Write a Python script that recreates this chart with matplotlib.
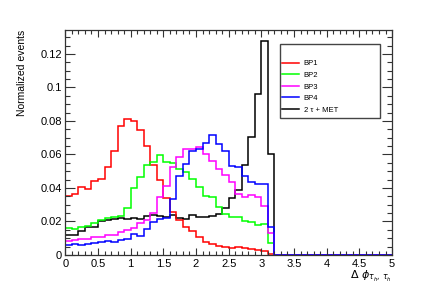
import numpy as np
import matplotlib
import matplotlib.pyplot as plt
from matplotlib.patches import Rectangle
from matplotlib.ticker import MultipleLocator, FuncFormatter

matplotlib.use("Agg")

# 50 bins of 0.1 from 0 to 5, only the first 32 are filled
bin_edges = np.round(np.arange(0, 5.01, 0.1), 2)

bp1 = [0.0350, 0.0367, 0.0404, 0.0392, 0.0444, 0.0456, 0.0523, 0.0621, 0.0770, 0.0812,
       0.0802, 0.0746, 0.0652, 0.0537, 0.0448, 0.0338, 0.0259, 0.0209, 0.0165, 0.0145,
       0.0109, 0.0080, 0.0066, 0.0054, 0.0046, 0.0042, 0.0046, 0.0040, 0.0038, 0.0032,
       0.0022, 0.0008]
bp2 = [0.0159, 0.0157, 0.0165, 0.0173, 0.0189, 0.0209, 0.0219, 0.0229, 0.0233, 0.0283,
       0.0400, 0.0468, 0.0537, 0.0557, 0.0597, 0.0557, 0.0547, 0.0515, 0.0497, 0.0455,
       0.0404, 0.0355, 0.0345, 0.0285, 0.0245, 0.0229, 0.0229, 0.0200, 0.0199, 0.0178,
       0.0188, 0.0070]
bp3 = [0.0084, 0.0088, 0.0093, 0.0098, 0.0105, 0.0110, 0.0122, 0.0118, 0.0137, 0.0148,
       0.0160, 0.0189, 0.0209, 0.0249, 0.0344, 0.0412, 0.0523, 0.0587, 0.0631, 0.0631,
       0.0643, 0.0600, 0.0560, 0.0515, 0.0480, 0.0435, 0.0362, 0.0344, 0.0356, 0.0344,
       0.0295, 0.0133]
bp4 = [0.0062, 0.0064, 0.0060, 0.0068, 0.0072, 0.0076, 0.0082, 0.0078, 0.0090, 0.0098,
       0.0128, 0.0115, 0.0153, 0.0195, 0.0217, 0.0222, 0.0333, 0.0470, 0.0545, 0.0623,
       0.0633, 0.0670, 0.0714, 0.0660, 0.0621, 0.0534, 0.0525, 0.0469, 0.0435, 0.0422,
       0.0424, 0.0170]
bkg = [0.0122, 0.0122, 0.0143, 0.0165, 0.0170, 0.0203, 0.0207, 0.0214, 0.0222, 0.0217,
       0.0222, 0.0213, 0.0233, 0.0239, 0.0233, 0.0226, 0.0239, 0.0219, 0.0213, 0.0239,
       0.0229, 0.0225, 0.0233, 0.0245, 0.0279, 0.0338, 0.0388, 0.0537, 0.0706, 0.0962,
       0.1280, 0.0604]

labels = ["BP1", "BP2", "BP3", "BP4", "2 \u03c4 + MET"]
colors = ["#ff0000", "#00ff00", "#ff00ff", "#0000ff", "#000000"]


def pad(vals):
	out = np.zeros(len(bin_edges) - 1)
	out[:len(vals)] = vals
	return out


plt.rcParams["font.family"] = ["Liberation Sans", "DejaVu Sans"]

fig = plt.figure(figsize=(4.36, 3.0), dpi=100)
ax = fig.add_axes([0.1498, 0.15, 0.7494, 0.75])

series = [bp1, bp2, bp3, bp4, bkg]
handles = {}
# background drawn first, signals on top
for idx in [4, 0, 1, 2, 3]:
	h = ax.stairs(pad(series[idx]), bin_edges, color=colors[idx], linewidth=1.1,
	              baseline=None)
	handles[idx] = h

ax.set_xlim(0, 5)
ax.set_ylim(0, 0.1343)

ax.xaxis.set_major_locator(MultipleLocator(0.5))
ax.xaxis.set_minor_locator(MultipleLocator(0.1))
ax.yaxis.set_major_locator(MultipleLocator(0.02))
ax.yaxis.set_minor_locator(MultipleLocator(0.005))
ax.xaxis.set_major_formatter(FuncFormatter(lambda v, p: "%g" % round(v, 3)))
ax.yaxis.set_major_formatter(FuncFormatter(lambda v, p: "%g" % round(v, 3)))

ax.tick_params(which="both", direction="in", top=True, right=True, labelsize=8,
               width=0.8, color="#333333")
ax.tick_params(axis="x", which="major", length=5, pad=3)
ax.tick_params(axis="x", which="minor", length=2.8)
ax.tick_params(axis="y", which="major", length=7, pad=2.5)
ax.tick_params(axis="y", which="minor", length=3.5)
for sp in ax.spines.values():
	sp.set_linewidth(0.9)
	sp.set_color("#333333")

ax.set_ylabel("Normalized events", fontsize=7.5, loc="top")
ax.yaxis.set_label_coords(-0.118, 1.0)
ax.set_xlabel(r"$\Delta\ \phi_{\tau_{h},\,\tau_{h}}$", fontsize=8, loc="right")
ax.xaxis.set_label_coords(1.0, -0.06)

# legend box (ROOT style, with empty header area)
ax.add_patch(Rectangle((0.657, 0.609), 0.306, 0.329, transform=ax.transAxes,
                       facecolor="white", edgecolor="#444444", linewidth=1.0,
                       clip_on=False, zorder=5))
leg = ax.legend([handles[i] for i in range(5)], labels, loc="upper left",
                bbox_to_anchor=(0.657, 0.873), frameon=False, fontsize=5.5,
                handlelength=2.3, handletextpad=0.6, labelspacing=0.55,
                borderpad=0, borderaxespad=0.2)
leg.set_zorder(6)

fig.savefig("out.png", dpi=100)
plt.close(fig)
